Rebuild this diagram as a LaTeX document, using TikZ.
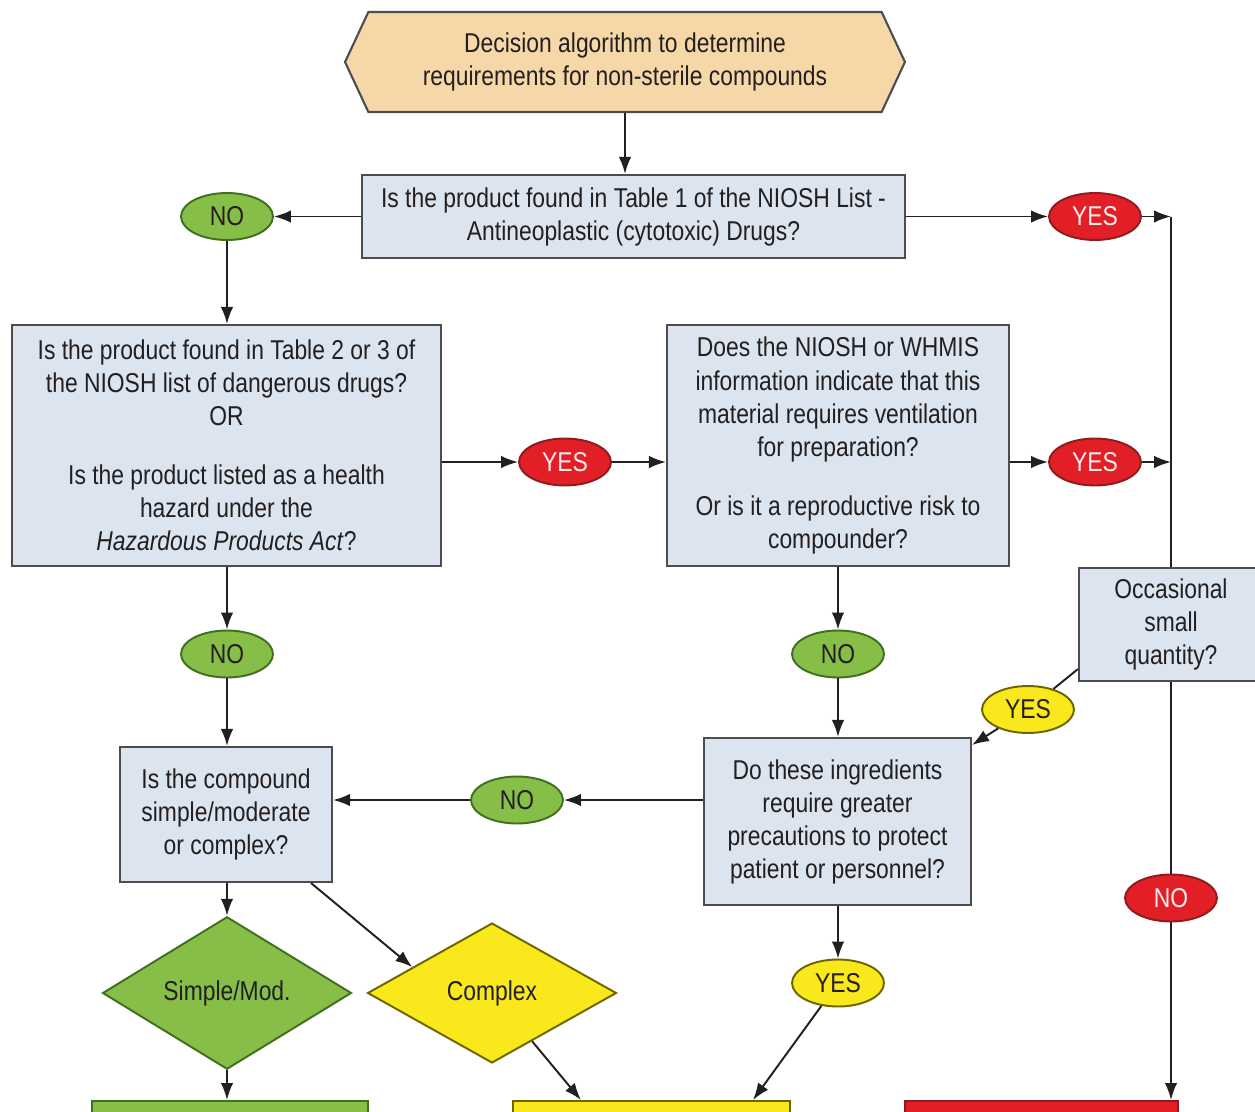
\documentclass[tikz,border=0pt]{standalone}
\usepackage{fontspec}
\setmainfont{Liberation Sans}[FakeStretch=0.84]
\usetikzlibrary{shapes.geometric, shapes.symbols, arrows.meta, calc}
\definecolor{ink}{HTML}{231F20}
\definecolor{edge}{HTML}{4D4D4F}
\definecolor{qfill}{HTML}{DCE4EF}
\definecolor{tanfill}{HTML}{F6D8A8}
\definecolor{gfill}{HTML}{86BE48}
\definecolor{gline}{HTML}{3F6F1F}
\definecolor{rfill}{HTML}{E21F26}
\definecolor{rline}{HTML}{8E1B1E}
\definecolor{yfill}{HTML}{F9E81B}
\definecolor{yline}{HTML}{6F6500}
\tikzset{
  txt/.style={font=\fontsize{15.5}{18.8}\selectfont, text=ink, align=center},
  qbox/.style={txt, draw=edge, fill=qfill, line width=1.2pt, inner sep=0pt},
  tag/.style={txt, ellipse, minimum width=1.84cm, minimum height=0.94cm, inner sep=0pt, line width=1.1pt},
  notag/.style={tag, draw=gline, fill=gfill},
  yestag/.style={tag, draw=rline, fill=rfill, text=red!8},
  maytag/.style={tag, draw=yline, fill=yfill},
  kind/.style={txt, diamond, minimum width=4.98cm, minimum height=2.8cm, inner sep=0pt, line width=1.1pt},
  endbox/.style={line width=1.2pt, minimum height=2cm, inner sep=0pt},
  arr/.style={-{Latex[length=0.34cm,width=0.25cm]}, line width=1.1pt, draw=ink},
  ln/.style={line width=1.1pt, draw=ink}
}

\begin{document}
\begin{tikzpicture}[x=0.02cm, y=-0.02cm]
  \useasboundingbox (0,0) rectangle (1255,1112);
  % start
  \node[txt, shape=signal, signal to=west and east, signal pointer angle=130, draw=edge, fill=tanfill,
        line width=1.2pt, minimum width=11.2cm, minimum height=2cm, inner sep=0pt] (hex) at (625,62)
       {Decision algorithm to determine\\requirements for non-sterile compounds};
  % questions
  \node[qbox, minimum width=10.86cm, minimum height=1.66cm] (q1) at (633.5,216.5)
       {Is the product found in Table 1 of the NIOSH List -\\Antineoplastic (cytotoxic) Drugs?};
  \node[qbox, minimum width=8.58cm, minimum height=4.82cm] (q2) at (226.5,445.5)
       {Is the product found in Table 2 or 3 of\\the NIOSH list of dangerous drugs?\\OR\\[0.52cm]
        Is the product listed as a health\\hazard under the\\\textit{Hazardous Products Act}?};
  \node[qbox, minimum width=6.84cm, minimum height=4.82cm] (q3) at (838,445.5)
       {Does the NIOSH or WHMIS\\information indicate that this\\material requires ventilation\\for preparation?\\[0.52cm]
        Or is it a reproductive risk to\\compounder?};
  \node[qbox, minimum width=3.68cm, minimum height=2.26cm] (occ) at (1171,624.5)
       {Occasional\\small\\quantity?};
  \node[qbox, minimum width=5.34cm, minimum height=3.34cm] (q5) at (837.5,821.5)
       {Do these ingredients\\require greater\\precautions to protect\\patient or personnel?};
  \node[qbox, minimum width=4.24cm, minimum height=2.7cm] (q4) at (226,814.5)
       {Is the compound\\simple/moderate\\or complex?};
  % answers
  \node[notag] (no1) at (227,216.5) {NO};
  \node[yestag] (yes1) at (1095,216.5) {YES};
  \node[yestag] (yes2) at (565,462) {YES};
  \node[yestag] (yes3) at (1095,462) {YES};
  \node[notag] (no2a) at (227,654) {NO};
  \node[notag] (no2b) at (838,654) {NO};
  \node[notag] (no3) at (517,800) {NO};
  \node[maytag] (yes4) at (1028,709.5) {YES};
  \node[maytag] (yes5) at (838,983) {YES};
  \node[yestag] (no4) at (1171,898) {NO};
  % kinds
  \node[kind, draw=gline, fill=gfill] (smp) at (227,993) {Simple/Mod.};
  \node[kind, draw=yline, fill=yfill] (cplx) at (492,993) {Complex};
  % outcomes, cut by the page
  \node[endbox, draw=gline, fill=gfill, minimum width=5.52cm, anchor=north] (gbox) at (230,1100) {};
  \node[endbox, draw=yline, fill=yfill, minimum width=5.54cm, anchor=north] (ybox) at (651.5,1100) {};
  \node[endbox, draw=rline, fill=rfill, minimum width=5.46cm, anchor=north] (rbox) at (1041.5,1100) {};
  % connectors
  \draw[arr] (hex.south) -- (hex.south |- q1.north);
  \draw[arr] (q1) -- (no1);
  \draw[arr] (q1) -- (yes1);
  \draw[arr] (yes1) -- (yes1 -| occ);
  \draw[ln] (yes1 -| occ) -- (occ.north);
  \draw[arr] (no1) -- (no1 |- q2.north);
  \draw[arr] (q2.east |- yes2) -- (yes2);
  \draw[arr] (yes2) -- (yes2 -| q3.west);
  \draw[arr] (q3.east |- yes3) -- (yes3);
  \draw[arr] (yes3) -- (yes3 -| occ);
  \draw[arr] (q2.south -| no2a) -- (no2a);
  \draw[arr] (no2a) -- (no2a |- q4.north);
  \draw[arr] (q3.south -| no2b) -- (no2b);
  \draw[arr] (no2b) -- (no2b |- q5.north);
  \draw[arr] (q5.west |- no3) -- (no3);
  \draw[arr] (no3) -- (no3 -| q4.east);
  \draw[ln] ([yshift=0.26cm]occ.south west) -- (yes4);
  \draw[arr] (yes4) -- ([yshift=-0.16cm]q5.north east);
  \draw[ln] (occ.south -| no4) -- (no4);
  \draw[arr] (no4) -- (no4 |- rbox.north);
  \draw[arr] (q4.south -| smp) -- (smp);
  \draw[arr] ([xshift=-0.44cm]q4.south east) -- (cplx.162);
  \draw[arr] (smp) -- (smp |- gbox.north);
  \draw[arr] (q5.south -| yes5) -- (yes5);
  \draw[arr] (cplx) -- ([xshift=1.38cm]ybox.north west);
  \draw[arr] (yes5) -- ([xshift=-0.76cm]ybox.north east);
\end{tikzpicture}
\end{document}
